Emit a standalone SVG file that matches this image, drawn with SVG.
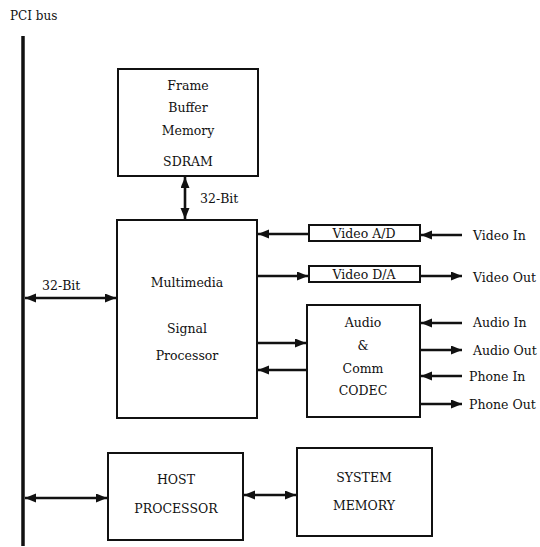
<svg xmlns="http://www.w3.org/2000/svg" width="540" height="547" viewBox="0 0 540 547">
<style>
text{font-family:"DejaVu Serif","Liberation Serif",serif;font-size:12.5px;fill:#111}
.c{text-anchor:middle}
.box{fill:#fff;stroke:#111;stroke-width:2}
.ln{stroke:#111;stroke-width:2.6;fill:none}
</style>
<defs>
<marker id="ah" markerUnits="userSpaceOnUse" markerWidth="12" markerHeight="10" refX="11" refY="4.5" orient="auto-start-reverse">
<path d="M0,0 L11,4.5 L0,9 z" fill="#111"/>
</marker>
</defs>
<rect width="540" height="547" fill="#fff"/>
<g id="pci-bus">
<text x="10" y="20" style="font-size:12px">PCI bus</text>
<line x1="23" y1="36" x2="23" y2="546" stroke="#111" stroke-width="3.5"/>
</g>
<g id="frame-buffer">
<rect class="box" x="118" y="69" width="140" height="107"/>
<text class="c" x="188" y="90">Frame</text>
<text class="c" x="188" y="112">Buffer</text>
<text class="c" x="188" y="135">Memory</text>
<text class="c" x="188" y="166">SDRAM</text>
</g>
<g id="msp">
<rect class="box" x="117" y="220" width="140" height="198"/>
<text class="c" x="187" y="287">Multimedia</text>
<text class="c" x="187" y="333">Signal</text>
<text class="c" x="187" y="360">Processor</text>
</g>
<g id="video-ad">
<rect class="box" x="309" y="225" width="111" height="16"/>
<text class="c" x="364" y="238">Video A/D</text>
</g>
<g id="video-da">
<rect class="box" x="309" y="266" width="111" height="16"/>
<text class="c" x="364" y="279">Video D/A</text>
</g>
<g id="codec">
<rect class="box" x="307" y="305" width="113" height="112"/>
<text class="c" x="363" y="327">Audio</text>
<text class="c" x="363" y="350">&amp;</text>
<text class="c" x="363" y="373">Comm</text>
<text class="c" x="363" y="395">CODEC</text>
</g>
<g id="host">
<rect class="box" x="108" y="453" width="135" height="87"/>
<text class="c" x="176" y="484">HOST</text>
<text class="c" x="176" y="513">PROCESSOR</text>
</g>
<g id="system-memory">
<rect class="box" x="297" y="448" width="135" height="88"/>
<text class="c" x="364" y="482">SYSTEM</text>
<text class="c" x="364" y="510">MEMORY</text>
</g>
<g id="connectors">
<line class="ln" x1="25" y1="298" x2="116" y2="298" marker-start="url(#ah)" marker-end="url(#ah)"/>
<line class="ln" x1="185" y1="177" x2="185" y2="219" marker-start="url(#ah)" marker-end="url(#ah)"/>
<line class="ln" x1="308" y1="234" x2="258" y2="234" marker-end="url(#ah)"/>
<line class="ln" x1="258" y1="276" x2="308" y2="276" marker-end="url(#ah)"/>
<line class="ln" x1="462" y1="235" x2="421" y2="235" marker-end="url(#ah)"/>
<line class="ln" x1="421" y1="276" x2="462" y2="276" marker-end="url(#ah)"/>
<line class="ln" x1="258" y1="343" x2="306" y2="343" marker-end="url(#ah)"/>
<line class="ln" x1="306" y1="370" x2="258" y2="370" marker-end="url(#ah)"/>
<line class="ln" x1="462" y1="323" x2="421" y2="323" marker-end="url(#ah)"/>
<line class="ln" x1="421" y1="350" x2="462" y2="350" marker-end="url(#ah)"/>
<line class="ln" x1="462" y1="376" x2="421" y2="376" marker-end="url(#ah)"/>
<line class="ln" x1="421" y1="404" x2="462" y2="404" marker-end="url(#ah)"/>
<line class="ln" x1="25" y1="498" x2="107" y2="498" marker-start="url(#ah)" marker-end="url(#ah)"/>
<line class="ln" x1="244" y1="495" x2="296" y2="495" marker-start="url(#ah)" marker-end="url(#ah)"/>
<text x="200" y="203">32-Bit</text>
<text x="42" y="290">32-Bit</text>
<text x="473" y="240">Video In</text>
<text x="473" y="282">Video Out</text>
<text x="473" y="327">Audio In</text>
<text x="473" y="355">Audio Out</text>
<text x="469" y="381">Phone In</text>
<text x="469" y="409">Phone Out</text>
</g>
</svg>
